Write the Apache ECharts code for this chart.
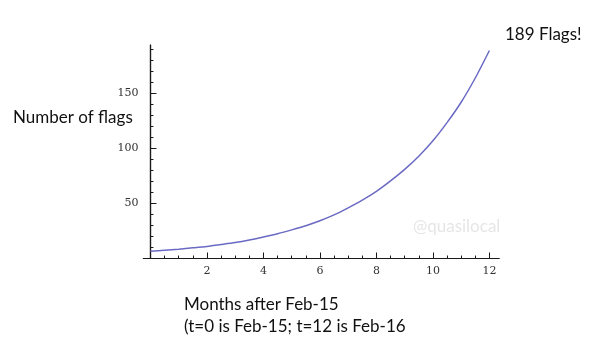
<!DOCTYPE html>
<html><head><meta charset="utf-8">
<script src="https://cdn.jsdelivr.net/npm/echarts@6/dist/echarts.min.js"></script>
<style>html,body{margin:0;padding:0;background:#fff}#c{width:602px;height:342px}</style>
</head><body><div id="c"></div>
<script>
const months = [0,0.5,1,1.5,2,2.5,3,3.5,4,4.5,5,5.5,6,6.5,7,7.5,8,8.5,9,9.5,10,10.5,11,11.5,12];
const flags = [6.5,7.5,8.5,9.7,11,12.7,14.5,16.8,19.5,22.5,26,29.8,34.3,39.6,46,53,61,70.5,81,93,107,123.5,142,164,189];
const xMajorTicks = [2,4,6,8,10,12];
const xMinorTicks = [0.5,1,1.5,2.5,3,3.5,4.5,5,5.5,6.5,7,7.5,8.5,9,9.5,10.5,11,11.5];
const yMajorTicks = [50,100,150];
const yMinorTicks = [10,20,30,40,60,70,80,90,110,120,130,140,160,170,180,190];
const yTitle = 'Number of flags';
const xTitle1 = 'Months after Feb-15';
const xTitle2 = '(t=0 is Feb-15; t=12 is Feb-16';
const endNote = '189 Flags!';
const watermark = '@quasilocal';

const chart = echarts.init(document.getElementById('c'));
const gridPos = {left:143.4, right:103, top:45, bottom:83.5};
const axisCol = '#1a1a1a';
const labelFont = {fontFamily:'DejaVu Serif', fontSize:11, color:'#333'};
function xAx(grid, ticks, len, labels){
  return {type:'value', gridIndex:grid, min:-0.25, max:12.34,
    axisLine:{show:true, onZero:true, lineStyle:{color:axisCol, width:1.2}},
    axisTick:{show:true, inside:true, length:len, customValues:ticks, lineStyle:{color:axisCol,width:1}},
    axisLabel:labels ? Object.assign({show:true, customValues:ticks, margin:7}, labelFont) : {show:false},
    splitLine:{show:false}};
}
function yAx(grid, ticks, len, labels){
  return {type:'value', gridIndex:grid, min:0, max:194,
    axisLine:{show:true, onZero:true, lineStyle:{color:axisCol, width:1.2}},
    axisTick:{show:true, inside:true, length:len, customValues:ticks, lineStyle:{color:axisCol,width:1}},
    axisLabel:labels ? Object.assign({show:true, customValues:ticks, margin:5}, labelFont) : {show:false},
    splitLine:{show:false}};
}
chart.setOption({
  animation:false,
  backgroundColor:'#fff',
  grid:[Object.assign({}, gridPos), Object.assign({}, gridPos)],
  xAxis:[xAx(0, xMajorTicks, 6, true), xAx(1, xMinorTicks, 3, false)],
  yAxis:[yAx(0, yMajorTicks, 6, true), yAx(1, yMinorTicks, 3, false)],
  series:[{type:'line', xAxisIndex:0, yAxisIndex:0, smooth:0.25, showSymbol:false,
    data:months.map((m,i)=>[m, flags[i]]),
    lineStyle:{color:'#6a6ac4', width:1.5}}],
  graphic:[
    {type:'text', left:13, top:109, style:{text:yTitle, font:'17px Lato', fill:'#111'}},
    {type:'text', left:505, top:26, style:{text:endNote, font:'17px Lato', fill:'#111'}},
    {type:'text', left:184, top:296, style:{text:xTitle1, font:'17px Lato', fill:'#111'}},
    {type:'text', left:184, top:318, style:{text:xTitle2, font:'17px Lato', fill:'#111'}},
    {type:'text', left:413, top:218, z:-1, style:{text:watermark, font:'17px Lato', fill:'#e6e6e6'}}
  ]
});
</script></body></html>
